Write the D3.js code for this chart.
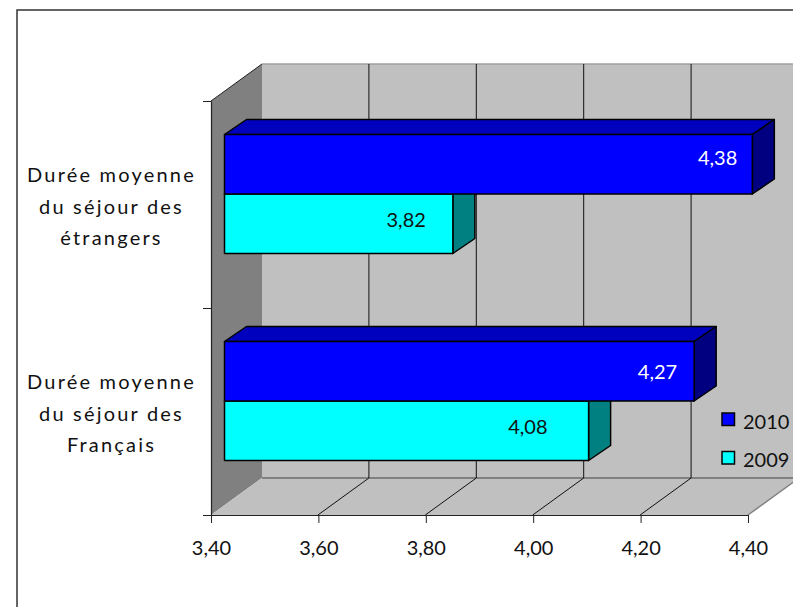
<!DOCTYPE html>
<html>
<head>
<meta charset="utf-8">
<script src="https://cdnjs.cloudflare.com/ajax/libs/d3/7.8.5/d3.min.js"></script>
<style>
	html, body { margin: 0; padding: 0; background: #fff; overflow: hidden; }
	text { font-family: Lato, sans-serif; fill: #111; }
</style>
</head>
<body>
<div id="chartDiv"></div>
<script>
var categories = [
	["Durée moyenne", "du séjour des", "Français"],
	["Durée moyenne", "du séjour des", "étrangers"]
];
var years = ["2009", "2010"];
// bar lengths, they round to the printed labels
var values2009 = [4.076, 3.824];
var values2010 = [4.272, 4.38];
var xTickValues = [3.4, 3.6, 3.8, 4.0, 4.2, 4.4];

;(function() {

	var width = 793;
	var height = 607;

	var front = { left: 211, right: 748, top: 101, bottom: 515 };
	var depth = { x: 51, y: -37 };
	var barDepth = { x: 22, y: -15 };
	var barInset = { x: 13.5, y: -10.5 };
	var barHeight = 59.5;
	var fontSize = "20px";

	var colors = {
		"2009": { front: "#00ffff", side: "#008080", top: "#00bfbf", label: "#111" },
		"2010": { front: "#0000ff", side: "#000080", top: "#0000bf", label: "#fff" }
	};

	// where each value label sits relative to the bar end and the bar middle
	var labelGap = { "2009": [41, 27], "2010": [17, 15] };
	var labelDrop = { "2009": [3, 3.5], "2010": [8, 0.5] };

	var locale = d3.formatLocale({ decimal: ",", thousands: " ", grouping: [3], currency: ["", ""] });
	var fmt = locale.format(".2f");

	var svg = d3.select("#chartDiv").append("svg")
		.attr("width", width)
		.attr("height", height)
		.style("display", "block");

	var xScale = d3.scaleLinear().domain([3.4, 4.4]).range([front.left, front.right]);
	var xBar = d3.scaleLinear().domain([3.4, 4.4]).range([front.left + barInset.x, front.right + barInset.x + 1.6]);
	var yEdges = d3.scaleLinear().domain([0, categories.length]).range([front.bottom, front.top]);
	var yBand = d3.scaleBand().domain(d3.range(categories.length)).range([front.bottom, front.top]);

	var line = d3.line();

	function poly(points, fill, stroke, strokeWidth) {
		return svg.append("path")
			.attr("d", line(points) + "Z")
			.attr("fill", fill)
			.attr("stroke", stroke || "none")
			.attr("stroke-width", strokeWidth || 0)
			.attr("stroke-linejoin", "round");
	}

	function seg(x1, y1, x2, y2, stroke, strokeWidth) {
		svg.append("line")
			.attr("x1", x1).attr("y1", y1)
			.attr("x2", x2).attr("y2", y2)
			.attr("stroke", stroke)
			.attr("stroke-width", strokeWidth);
	}

	drawFrame();
	drawWalls();
	drawAxes();
	drawBars();
	drawLegend();

	function drawFrame() {
		svg.append("rect")
			.attr("x", 17).attr("y", 10)
			.attr("width", 900).attr("height", 800)
			.attr("fill", "#fff")
			.attr("stroke", "#333")
			.attr("stroke-width", 1.5);
	}

	function drawWalls() {
		var backLeft = front.left + depth.x;
		var backRight = front.right + depth.x;
		var backTop = front.top + depth.y;
		var backBottom = front.bottom + depth.y;

		// back wall
		poly([[backLeft, backTop], [backRight, backTop], [backRight, backBottom], [backLeft, backBottom]], "#c0c0c0");
		seg(backLeft, backTop, backRight, backTop, "#a0a0a0", 1.5);

		// left wall
		poly([[front.left, front.top], [backLeft, backTop], [backLeft, backBottom], [front.left, front.bottom]], "#808080");

		// floor
		poly([[front.left, front.bottom], [backLeft, backBottom], [backRight, backBottom], [front.right, front.bottom]], "#c0c0c0");
		seg(backLeft, backBottom, backRight, backBottom, "#808080", 2);
		seg(front.right, front.bottom, backRight, backBottom, "#808080", 1.5);

		// gridlines on the back wall and across the floor
		xTickValues.slice(1, -1).forEach(function(d) {
			var x = xScale(d);
			seg(x + depth.x - 0.5, backTop, x + depth.x - 0.5, backBottom, "#111", 1);
			seg(x - 0.5, front.bottom, x + depth.x - 0.5, backBottom, "#111", 1);
		});

		seg(front.left, front.top, backLeft, backTop, "#222", 1);
	}

	function drawAxes() {
		var xAxis = d3.axisBottom(xScale)
			.tickValues(xTickValues)
			.tickFormat(fmt)
			.tickSize(8)
			.tickSizeOuter(0)
			.tickPadding(18);

		var xAxisContainer = svg.append("g")
			.attr("transform", "translate(0," + front.bottom + ")")
			.call(xAxis);
		xAxisContainer.selectAll("line").attr("stroke", "#222");
		xAxisContainer.select(".domain").attr("stroke", "#222").attr("stroke-width", 1.2);
		xAxisContainer.selectAll("text")
			.style("font-family", "Lato, sans-serif")
			.style("font-size", fontSize)
			.attr("fill", "#111");

		var yAxis = d3.axisLeft(yEdges)
			.ticks(categories.length)
			.tickFormat("")
			.tickSize(8)
			.tickSizeOuter(0);

		var yAxisContainer = svg.append("g")
			.attr("transform", "translate(" + front.left + ",0)")
			.call(yAxis);
		yAxisContainer.selectAll("line").attr("stroke", "#222");
		yAxisContainer.select(".domain").attr("stroke", "#222").attr("stroke-width", 1.2);

		// category labels, one text per line
		categories.forEach(function(lines, i) {
			var mid = yBand(i) + yBand.bandwidth() / 2;
			lines.forEach(function(t, j) {
				svg.append("text")
					.attr("x", 111.5)
					.attr("y", mid + (j - 1) * 31.6 + 9.3)
					.attr("text-anchor", "middle")
					.style("font-size", fontSize)
					.style("letter-spacing", "2.2px")
					.text(t);
			});
		});
	}

	function drawBars() {
		categories.forEach(function(lines, i) {
			var mid = yBand(i) + yBand.bandwidth() / 2 + barInset.y;
			drawBar(years[0], i, values2009[i], mid, mid + barHeight);
			drawBar(years[1], i, values2010[i], mid - barHeight, mid);
		});
	}

	function drawBar(year, i, value, y0, y1) {
		var x0 = xBar.range()[0];
		var x1 = xBar(value);
		var c = colors[year];

		poly([[x0, y0], [x0 + barDepth.x, y0 + barDepth.y], [x1 + barDepth.x, y0 + barDepth.y], [x1, y0]], c.top, "#000", 1.5);
		poly([[x1, y0], [x1 + barDepth.x, y0 + barDepth.y], [x1 + barDepth.x, y1 + barDepth.y], [x1, y1]], c.side, "#000", 1.5);
		poly([[x0, y0], [x1, y0], [x1, y1], [x0, y1]], c.front, "#000", 1.5);

		svg.append("text")
			.attr("x", x1 - labelGap[year][i])
			.attr("y", (y0 + y1) / 2 + labelDrop[year][i])
			.attr("text-anchor", "end")
			.style("font-size", fontSize)
			.style("fill", c.label)
			.text(fmt(value));
	}

	function drawLegend() {
		var yLegend = d3.scalePoint().domain(["2010", "2009"]).range([419.5, 458]);

		yLegend.domain().forEach(function(year) {
			var y = yLegend(year);
			svg.append("rect")
				.attr("x", 722).attr("y", y - 6.5)
				.attr("width", 12.5).attr("height", 12.5)
				.attr("fill", colors[year].front)
				.attr("stroke", "#000")
				.attr("stroke-width", 1.5);
			svg.append("text")
				.attr("x", 743)
				.attr("y", y + 9)
				.style("font-size", fontSize)
				.text(year);
		});
	}

})();
</script>
</body>
</html>
